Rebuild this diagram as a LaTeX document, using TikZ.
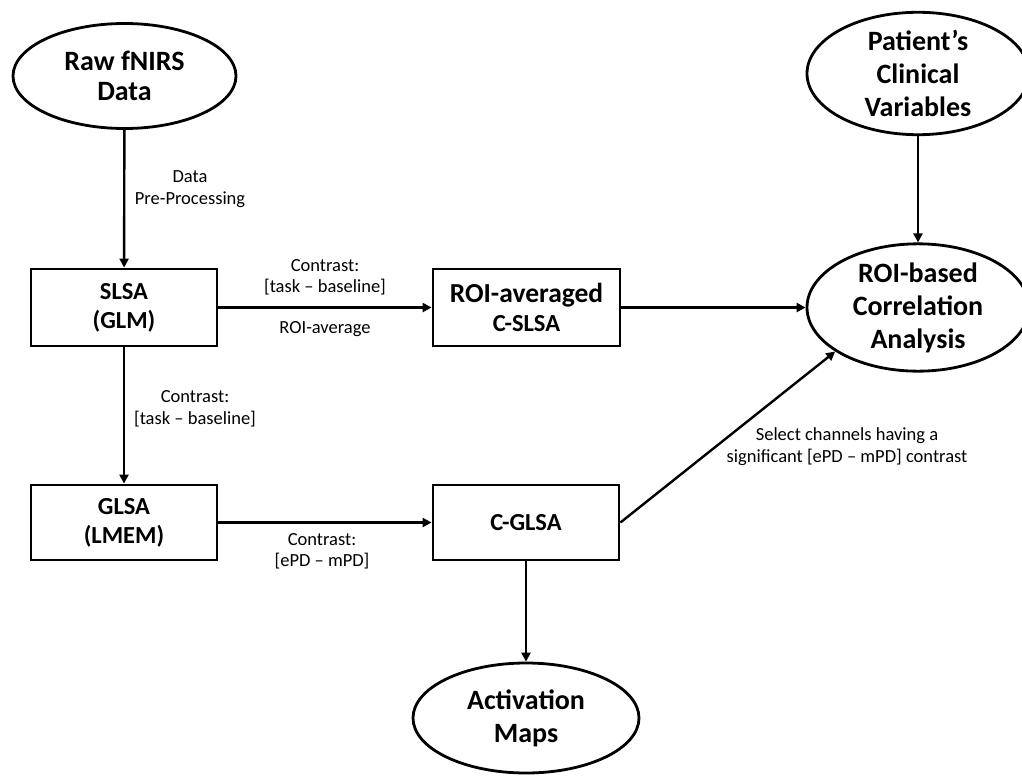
\documentclass[tikz,border=0pt]{standalone}
\usepackage{fontspec}
\setmainfont{Carlito}
\usetikzlibrary{shapes.geometric,arrows.meta}
\begin{document}
\begin{tikzpicture}[x=1pt,y=-1pt,
  oval/.style={ellipse,draw,line width=2.8pt,inner sep=0pt,align=center,font=\fontsize{28}{33}\selectfont\bfseries},
  procbox/.style={rectangle,draw,line width=2.8pt,inner sep=0pt,align=center,font=\fontsize{24.5}{29}\selectfont\bfseries},
  conn/.style={line width=2.4pt,-{Triangle[length=9pt,width=9pt]}},
  lbl/.style={align=center,inner sep=0pt,font=\fontsize{18.5}{21.5}\selectfont}]
\useasboundingbox (0,0) rectangle (1022,776);
% nodes
\node[oval,minimum width=223pt,minimum height=105pt,font=\fontsize{28}{30}\selectfont\bfseries] (raw) at (124.5,76) {Raw fNIRS\\Data};
\node[oval,minimum width=222pt,minimum height=117pt] (pat) at (918,73.5) {Patient’s\\Clinical\\Variables};
\node[oval,minimum width=222pt,minimum height=119pt] (roib) at (918,307.5) {ROI-based\\Correlation\\Analysis};
\node[oval,minimum width=226pt,minimum height=110pt] (act) at (526,718) {Activation\\Maps};
\node[procbox,minimum width=186pt,minimum height=77pt] (slsa) at (124,307.5) {SLSA\\(GLM)};
\node[procbox,minimum width=186pt,minimum height=75pt] (glsa) at (124,522.5) {GLSA\\(LMEM)};
\node[procbox,minimum width=187pt,minimum height=77pt] (roia) at (526.5,307.5) {{\fontsize{27.5}{34}\selectfont ROI-averaged}\\C-SLSA};
\node[procbox,minimum width=186pt,minimum height=75pt] (cglsa) at (526,522.5) {C-GLSA};
% connectors
\draw[conn] (raw) -- (slsa);
\draw[conn] (slsa) -- (glsa);
\draw[conn] (slsa) -- (roia);
\draw[conn] (glsa) -- (cglsa);
\draw[conn] (roia) -- (roib);
\draw[conn] (pat) -- (roib);
\draw[conn] (cglsa.south) -- (act.north);
\draw[conn] (cglsa.east) -- (roib.208);
% labels
\node[lbl] (l1) at (190,189) {Data\\Pre-Processing};
\node[lbl] (l2) at (325,277.5) {Contrast:\\{}[task – baseline]};
\node[lbl] (l3) at (325,329) {ROI-average};
\node[lbl] (l4) at (195,409) {Contrast:\\{}[task – baseline]};
\node[lbl] (l5) at (322,551.5) {Contrast:\\{}[ePD – mPD]};
\node[lbl] (l6) at (847,446.5) {Select channels having a\\significant [ePD – mPD] contrast};
\end{tikzpicture}
\end{document}
